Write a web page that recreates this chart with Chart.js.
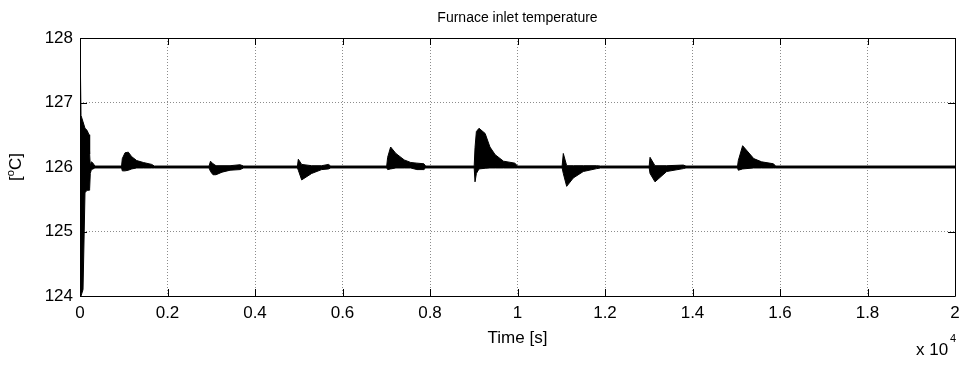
<!DOCTYPE html>
<html>
<head>
<meta charset="utf-8">
<script src="https://cdn.jsdelivr.net/npm/chart.js@4.4.1/dist/chart.umd.min.js"></script>
<style>
  html, body { margin: 0; padding: 0; background: #fff; }
  #wrap { width: 968px; height: 365px; }
</style>
</head>
<body>
<div id="wrap"><canvas id="furnaceChart"></canvas></div>
<script>
// time [s] and the upper / lower envelope of the oscillating temperature [oC]
const time = [
    0, 23, 69, 114, 160, 206, 220, 235, 260, 297, 340,
    950, 967, 1029, 1104, 1182, 1296, 1447, 1639, 1700,
    2950, 2983, 3040, 3109, 3246, 3429, 3657, 3740,
    4970, 4990, 5067, 5296, 5524, 5680, 5730,
    7010, 7032, 7100, 7220, 7410, 7560, 7700, 7860, 7900,
    9010, 9029, 9060, 9120, 9260, 9370, 9490, 9680, 9940, 10000,
    11020, 11047, 11124, 11275, 11504, 11810, 11900,
    13010, 13029, 13143, 13410, 13790, 13850,
    15030, 15047, 15146, 15400, 15580, 15850, 15900,
    20000
];

const upper = [
    128.0, 126.8, 126.7, 126.6, 126.57, 126.5, 126.2, 126.02, 126.08, 126.06, 126.015,
    126.015, 126.13, 126.22, 126.23, 126.16, 126.10, 126.07, 126.04, 126.015,
    126.015, 126.09, 126.05, 126.02, 126.02, 126.02, 126.035, 126.015,
    126.015, 126.12, 126.04, 126.02, 126.02, 126.04, 126.015,
    126.015, 126.15, 126.31, 126.21, 126.11, 126.07, 126.06, 126.05, 126.015,
    126.015, 126.3, 126.55, 126.60, 126.52, 126.31, 126.19, 126.09, 126.06, 126.015,
    126.015, 126.21, 126.02, 126.02, 126.02, 126.02, 126.015,
    126.015, 126.15, 126.02, 126.02, 126.03, 126.015,
    126.015, 126.1, 126.33, 126.13, 126.08, 126.05, 126.015,
    126.015
];

const lower = [
    124.0, 124.0, 124.1, 125.6, 125.64, 125.64, 125.66, 125.9, 125.96, 125.97, 125.985,
    125.985, 125.94, 125.94, 125.95, 125.97, 125.985, 125.985, 125.985, 125.985,
    125.985, 125.93, 125.88, 125.88, 125.92, 125.95, 125.96, 125.985,
    125.985, 125.95, 125.80, 125.90, 125.96, 125.97, 125.985,
    125.985, 125.96, 125.97, 125.985, 125.985, 125.985, 125.96, 125.96, 125.985,
    125.985, 125.77, 125.9, 125.97, 125.98, 125.985, 125.985, 125.985, 125.985, 125.985,
    125.985, 125.9, 125.70, 125.83, 125.93, 125.975, 125.985,
    125.985, 125.9, 125.77, 125.93, 125.975, 125.985,
    125.985, 125.95, 125.97, 125.985, 125.985, 125.985, 125.985,
    125.985
];

// axis ticks
const yTicks = [124, 125, 126, 127, 128];
const xTicks = [0, 2000, 4000, 6000, 8000, 10000, 12000, 14000, 16000, 18000, 20000];
const xTickLabels = ['0', '0.2', '0.4', '0.6', '0.8', '1', '1.2', '1.4', '1.6', '1.8', '2'];

const FONT = '"Liberation Sans", Arial, Helvetica, sans-serif';

const lowerPts = time.map((t, i) => ({ x: t, y: lower[i] }));
const upperPts = time.map((t, i) => ({ x: t, y: upper[i] }));

// MATLAB-style box, inner ticks and extra texts
const matlabFrame = {
    id: 'matlabFrame',
    afterDraw(chart) {
        const ctx = chart.ctx;
        const a = chart.chartArea;
        const xs = chart.scales.x, ys = chart.scales.y;
        const tl = 7;

        ctx.save();
        ctx.strokeStyle = '#000';
        ctx.lineWidth = 1;
        ctx.beginPath();
        ctx.rect(Math.round(a.left) + 0.5, Math.round(a.top) + 0.5,
                 Math.round(a.right - a.left), Math.round(a.bottom - a.top));
        ctx.stroke();

        ctx.beginPath();
        xTicks.forEach(v => {
            const px = Math.round(xs.getPixelForValue(v)) + 0.5;
            ctx.moveTo(px, a.bottom); ctx.lineTo(px, a.bottom - tl);
            ctx.moveTo(px, a.top); ctx.lineTo(px, a.top + tl);
        });
        yTicks.forEach(v => {
            const py = Math.round(ys.getPixelForValue(v)) + 0.5;
            ctx.moveTo(a.left, py); ctx.lineTo(a.left + tl, py);
            ctx.moveTo(a.right, py); ctx.lineTo(a.right - tl, py);
        });
        ctx.stroke();

        ctx.fillStyle = '#000';
        const cx = (a.left + a.right) / 2;

        // title
        ctx.font = '14px ' + FONT;
        ctx.textAlign = 'center';
        ctx.textBaseline = 'middle';
        ctx.fillText('Furnace inlet temperature', cx, 18);

        // x label
        ctx.font = '17px ' + FONT;
        ctx.fillText('Time [s]', cx, 338);

        // exponent "x 10^4"
        ctx.textAlign = 'left';
        ctx.textBaseline = 'alphabetic';
        ctx.font = '17px ' + FONT;
        ctx.fillText('x 10', 916, 355);
        ctx.font = '11px ' + FONT;
        ctx.fillText('4', 950, 342);

        // y label "[oC]" with superscript o, rotated
        ctx.translate(21, (a.top + a.bottom) / 2);
        ctx.rotate(-Math.PI / 2);
        ctx.font = '17px ' + FONT;
        const w1 = ctx.measureText('[').width;
        const w3 = ctx.measureText('C]').width;
        ctx.font = '11px ' + FONT;
        const w2 = ctx.measureText('o').width;
        let x0 = -(w1 + w2 + w3) / 2;
        ctx.font = '17px ' + FONT;
        ctx.fillText('[', x0, 0);
        ctx.font = '11px ' + FONT;
        ctx.fillText('o', x0 + w1, -7);
        ctx.font = '17px ' + FONT;
        ctx.fillText('C]', x0 + w1 + w2, 0);
        ctx.restore();
    }
};

var ctx = document.getElementById('furnaceChart').getContext('2d');
var furnaceChart = new Chart(ctx, {
    type: 'line',
    data: {
        datasets: [{
            label: 'lower',
            data: lowerPts,
            borderColor: '#000',
            borderWidth: 1,
            pointRadius: 0,
            tension: 0,
            fill: false
        }, {
            label: 'upper',
            data: upperPts,
            borderColor: '#000',
            backgroundColor: '#000',
            borderWidth: 1,
            pointRadius: 0,
            tension: 0,
            fill: '-1'
        }]
    },
    options: {
        responsive: true,
        maintainAspectRatio: false,
        animation: false,
        layout: { padding: { top: 38, right: 13, left: 0, bottom: 0 } },
        plugins: {
            legend: { display: false },
            tooltip: { enabled: false },
            title: { display: false }
        },
        scales: {
            x: {
                type: 'linear',
                min: 0,
                max: 20000,
                afterFit: (s) => { s.height = 69; },
                afterBuildTicks: (s) => { s.ticks = xTicks.map(v => ({ value: v })); },
                ticks: {
                    autoSkip: false,
                    maxRotation: 0,
                    padding: 7,
                    color: '#000',
                    font: { family: FONT, size: 17 },
                    callback: (v) => xTickLabels[xTicks.indexOf(v)]
                },
                grid: { color: '#8c8c8c', lineWidth: 1, drawTicks: false },
                border: { display: false, dash: [1, 2] }
            },
            y: {
                min: 124,
                max: 128,
                afterFit: (s) => { s.width = 80; },
                afterBuildTicks: (s) => { s.ticks = yTicks.map(v => ({ value: v })); },
                ticks: {
                    padding: 7,
                    color: '#000',
                    font: { family: FONT, size: 17 }
                },
                grid: { color: '#8c8c8c', lineWidth: 1, drawTicks: false },
                border: { display: false, dash: [1, 2] }
            }
        }
    },
    plugins: [matlabFrame]
});
</script>
</body>
</html>
